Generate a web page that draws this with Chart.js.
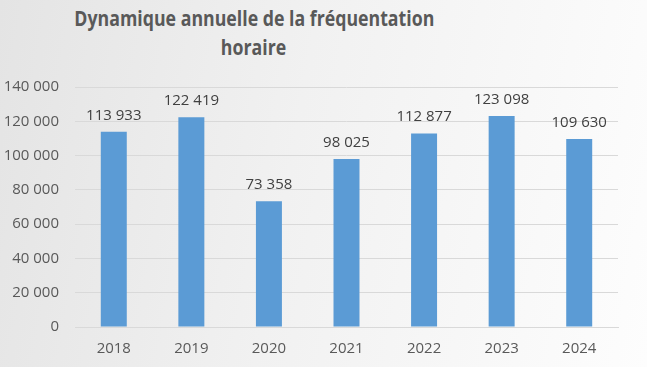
<!DOCTYPE html>
<html>
<head>
<meta charset="utf-8">
<script src="https://cdn.jsdelivr.net/npm/chart.js@4/dist/chart.umd.min.js"></script>
<style>
    html, body { margin: 0; padding: 0; }
    #wrap {
        position: relative;
        width: 647px;
        height: 367px;
        background: linear-gradient(100deg, #e4e4e4 0%, #f1f1f1 45%, #fdfdfd 100%);
    }
    #title {
        position: absolute;
        left: 0;
        top: 3px;
        width: 508px;
        text-align: center;
        font-family: "Open Sans", sans-serif;
        font-weight: bold;
        font-size: 22px;
        line-height: 29px;
        color: #595959;
    }
    #title span { display: inline-block; transform-origin: center; white-space: nowrap; }
    canvas { position: absolute; left: 0; top: 0; }
</style>
</head>
<body>
<div id="wrap">
    <div id="title"><span>Dynamique annuelle de la fréquentation</span><br><span>horaire</span></div>
    <canvas id="chart" width="647" height="367"></canvas>
</div>
<script>
// data
const years = ["2018", "2019", "2020", "2021", "2022", "2023", "2024"];
const visits = [113933, 122419, 73358, 98025, 112877, 123098, 109630];
const yMax = 140000;
const yStep = 20000;

// french style thousands: "140 000"
function fmt(v) {
    return String(v).replace(/\B(?=(\d{3})+(?!\d))/g, " ");
}

// squeeze the title so it looks like the narrow Calibri of the original
const spans = document.querySelectorAll("#title span");
const w0 = spans[0].getBoundingClientRect().width;
const k = 360 / w0;
spans.forEach((s) => { s.style.transform = `scaleX(${k})`; });

// value labels above each bar
const barLabels = {
    id: "barLabels",
    afterDatasetsDraw(chart) {
        const ctx = chart.ctx;
        const meta = chart.getDatasetMeta(0);
        ctx.save();
        ctx.font = "15px 'Open Sans', sans-serif";
        ctx.fillStyle = "#404040";
        ctx.textAlign = "center";
        ctx.textBaseline = "alphabetic";
        meta.data.forEach((bar, i) => {
            ctx.fillText(fmt(visits[i]), bar.x, bar.y - 12);
        });
        ctx.restore();
    },
};

const ctx = document.getElementById("chart").getContext("2d");
new Chart(ctx, {
    type: "bar",
    data: {
        labels: years,
        datasets: [
            {
                data: visits,
                backgroundColor: "#5B9BD5",
                barPercentage: 0.67,
                categoryPercentage: 0.5,
            },
        ],
    },
    options: {
        responsive: false,
        animation: false,
        layout: { padding: { top: 87, right: 29, left: 0, bottom: 0 } },
        plugins: {
            legend: { display: false },
            tooltip: { enabled: false },
        },
        scales: {
            x: {
                grid: { display: false, drawTicks: false },
                border: { display: true, color: "#d9d9d9" },
                ticks: {
                    color: "#595959",
                    font: { family: "'Open Sans', sans-serif", size: 15 },
                    padding: 13,
                },
                afterFit(scale) { scale.height = 40; },
            },
            y: {
                min: 0,
                max: yMax,
                grid: { color: "#d9d9d9", drawTicks: false },
                border: { display: false },
                ticks: {
                    stepSize: yStep,
                    color: "#595959",
                    font: { family: "'Open Sans', sans-serif", size: 15 },
                    padding: 16,
                    callback: (v) => fmt(v),
                },
                afterFit(scale) { scale.width = 75; },
            },
        },
    },
    plugins: [barLabels],
});
</script>
</body>
</html>
